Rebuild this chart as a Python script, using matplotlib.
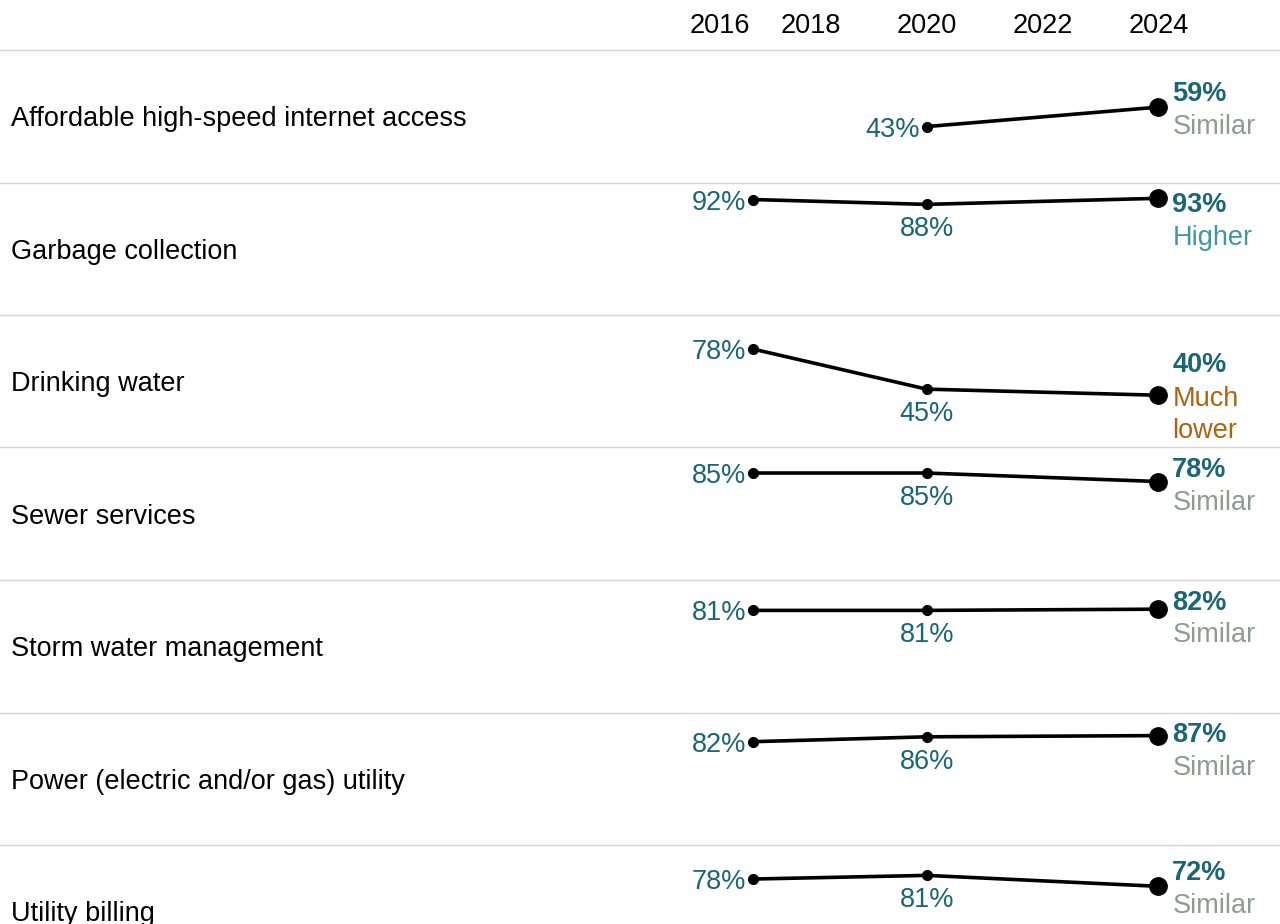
import matplotlib.pyplot as plt
from matplotlib.lines import Line2D
from matplotlib.transforms import blended_transform_factory

plt.rcParams['font.family'] = ['Liberation Sans', 'DejaVu Sans']

# Data
services = ['Affordable high-speed internet access', 'Garbage collection',
            'Drinking water', 'Sewer services', 'Storm water management',
            'Power (electric and/or gas) utility', 'Utility billing']
years = [2017, 2020, 2024]
pct_first = [None, 92, 78, 85, 81, 82, 78]
pct_2020 = [43, 88, 45, 85, 81, 86, 81]
pct_2024 = [59, 93, 40, 78, 82, 87, 72]
status = ['Similar', 'Higher', 'Much\nlower', 'Similar', 'Similar', 'Similar', 'Similar']
header_years = [2016, 2018, 2020, 2022, 2024]

# Colours
teal = '#1b6676'
status_colors = {'Similar': '#8d9c8e', 'Higher': '#3f95a9', 'Much\nlower': '#b0620f'}
grid_col = '#d6d6d6'

W, H = 1280, 924
top0, row_h = 50, 132.5
x_left = 695
fs = 19.5
dy = -3  # nudge text down so visual centre matches
ylo, yhi = -3, 106
line_px = 33

fig = plt.figure(figsize=(W / 100, H / 100), dpi=100)

axes = []
for i, name in enumerate(services):
    top = top0 + i * row_h
    ax = fig.add_axes([x_left / W, 1 - (top + row_h) / H, (W - x_left) / W, row_h / H])
    ax.set_xlim(2016, 2026.1)
    ax.set_ylim(ylo, yhi)
    ax.axis('off')
    axes.append(ax)

    vals = [pct_first[i], pct_2020[i], pct_2024[i]]
    xs = [yr for yr, v in zip(years, vals) if v is not None]
    ys = [v for v in vals if v is not None]

    ax.plot(xs, ys, color='black', lw=2.6, solid_capstyle='round', zorder=2)
    ax.plot(xs[:-1], ys[:-1], 'o', ms=7, color='black', zorder=3)
    ax.plot(xs[-1], ys[-1], 'o', ms=12.5, color='black', zorder=3)

    # labels for earlier points
    for j, (x, y) in enumerate(zip(xs[:-1], ys[:-1])):
        if j == 0:
            ax.annotate(f'{y}%', (x, y), xytext=(-7, dy), textcoords='offset pixels',
                        ha='right', va='center', color=teal, fontsize=fs)
        else:
            ax.annotate(f'{y}%', (x, y), xytext=(0, -22 + dy), textcoords='offset pixels',
                        ha='center', va='center', color=teal, fontsize=fs)

    # last point: value + status block, kept inside the row
    n = status[i].count('\n') + 1
    p = (yhi - ys[-1]) * row_h / (yhi - ylo)  # point depth below row top, px
    val_c = max(p - line_px / 2 * n, 19.5)
    up = p - val_c
    ax.annotate(f'{ys[-1]}%', (xs[-1], ys[-1]), xytext=(14, up + dy),
                textcoords='offset pixels', ha='left', va='center',
                color=teal, fontsize=fs, fontweight='bold', annotation_clip=False)
    stat_up = up - line_px / 2 - line_px * n / 2
    ax.annotate(status[i], (xs[-1], ys[-1]), xytext=(14, stat_up + dy),
                textcoords='offset pixels', ha='left', va='center',
                color=status_colors[status[i]], fontsize=fs, linespacing=1.32,
                annotation_clip=False)

    # row label
    fig.text(11 / W, 1 - (top + row_h / 2 + 3) / H, name, ha='left', va='center',
             fontsize=fs, color='black')

# separators
for i in range(len(services)):
    y = 1 - (top0 + i * row_h) / H
    fig.add_artist(Line2D([0, 1], [y, y], transform=fig.transFigure,
                          color=grid_col, lw=1))

# header years
trans = blended_transform_factory(axes[0].transData, fig.transFigure)
for yr in header_years:
    if yr == header_years[0]:
        axes[0].annotate(str(yr), (yr, 1 - 26 / H), xycoords=trans, xytext=(-5, 0),
                         textcoords='offset pixels', ha='left', va='center',
                         fontsize=fs, annotation_clip=False)
    else:
        fig.text(yr, 1 - 26 / H, str(yr), transform=trans, ha='center', va='center',
                 fontsize=fs)

fig.savefig('out.png', dpi=100)
